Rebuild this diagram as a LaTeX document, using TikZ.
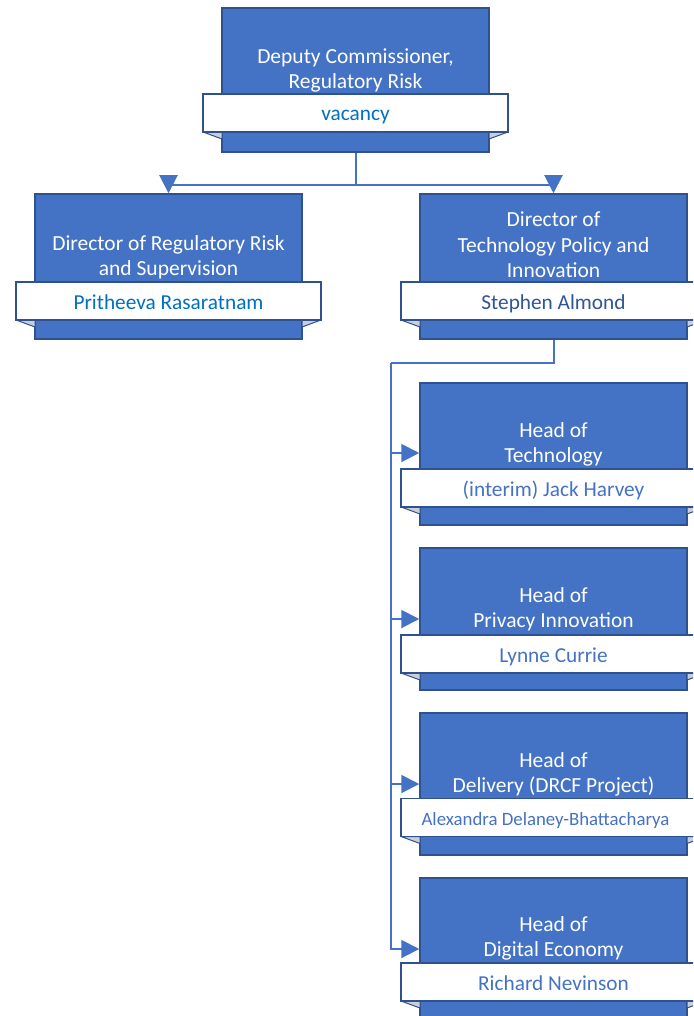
\documentclass[tikz,border=0pt]{standalone}
\usepackage{fontspec}
\setmainfont{Carlito}
\usetikzlibrary{arrows.meta}
\definecolor{boxblue}{HTML}{4472C4}
\definecolor{edgeblue}{HTML}{2F528F}
\definecolor{nameblue}{HTML}{0070C0}
\definecolor{darkname}{HTML}{2F5597}
\definecolor{midname}{HTML}{4472C4}
\definecolor{foldgray}{HTML}{C9CED8}
\tikzset{
 unitbox/.style={draw=edgeblue, fill=boxblue, line width=1.5pt, inner sep=0pt},
 banner/.style={draw=edgeblue, fill=white, line width=1.2pt, inner sep=0pt, minimum width=305pt, minimum height=38pt, text height=16pt, text depth=0pt, font=\fontsize{21.3}{25}\selectfont},
 titletext/.style={text=white, align=center, font=\fontsize{21.5}{25.5}\selectfont, inner sep=0pt},
 fold/.style={draw=edgeblue, fill=foldgray, line width=1pt, line join=round},
 conn/.style={draw=boxblue, line width=2pt},
 arr/.style={conn, -{Triangle[length=18pt,width=18pt]}},
}
% #1 id, #2 cx, #3 top, #4 bottom, #5 title y, #6 title, #7 banner y, #8 person, #9 person colour
\newcommand\orgunit[9]{%
 \node[unitbox, minimum width=267pt, minimum height={#4-#3}] (#1) at (#2,{(#3+#4)/2}) {};
 \filldraw[fold] ({#2-152.5},{#7+19}) -- ({#2-133.5},{#7+19}) -- ({#2-133.5},{#7+26}) -- cycle;
 \filldraw[fold] ({#2+152.5},{#7+19}) -- ({#2+133.5},{#7+19}) -- ({#2+133.5},{#7+26}) -- cycle;
 \node[titletext] (#1-title) at (#2,{#5+1.5}) {#6};
 \node[banner, text=#9] (#1-name) at (#2,#7) {#8};
}
\begin{document}
\begin{tikzpicture}[x=1pt,y=-1pt]
\clip (0,0) rectangle (693,1016);
\fill[white] (0,0) rectangle (693,1016);
\orgunit{dc}{355.5}{8}{152}{69}{Deputy Commissioner,\\Regulatory Risk}{113}{vacancy}{nameblue}
\orgunit{drs}{168.5}{194}{339}{256}{Director of Regulatory Risk\\and Supervision}{301}{Pritheeva Rasaratnam}{nameblue}
\orgunit{dtp}{553.5}{194}{339}{243.5}{Director of\\Technology Policy and\\Innovation}{301}{Stephen Almond}{darkname}
\orgunit{ht}{553.5}{383}{525}{443}{Head of\\Technology}{488}{(interim) Jack Harvey}{midname}
\orgunit{hp}{553.5}{548}{690}{608}{Head of\\Privacy Innovation}{654}{Lynne Currie}{midname}
\orgunit{hd}{553.5}{713}{855}{773}{Head of\\Delivery (DRCF Project)}{817.5}{\fontsize{18.8}{22}\selectfont Alexandra Delaney-Bhattacharya\hspace*{16pt}}{midname}
\orgunit{he}{553.5}{878}{1020}{937}{Head of\\Digital Economy}{982}{Richard Nevinson}{midname}
% connectors
\coordinate (j1) at (355.5,185);
\coordinate (j2) at (391,363);
\coordinate (s1) at (391,453);
\coordinate (s2) at (391,619);
\coordinate (s3) at (391,784);
\draw[conn] (dc.south) -- (j1);
\draw[arr] (j1) -| (drs.north);
\draw[arr] (j1) -| (dtp.north);
\draw[conn] (dtp.south) |- (j2);
\draw[arr] (j2) |- (he.west);
\draw[arr] (s1) -- (s1 -| ht.west);
\draw[arr] (s2) -- (s2 -| hp.west);
\draw[arr] (s3) -- (s3 -| hd.west);
\end{tikzpicture}
\end{document}
